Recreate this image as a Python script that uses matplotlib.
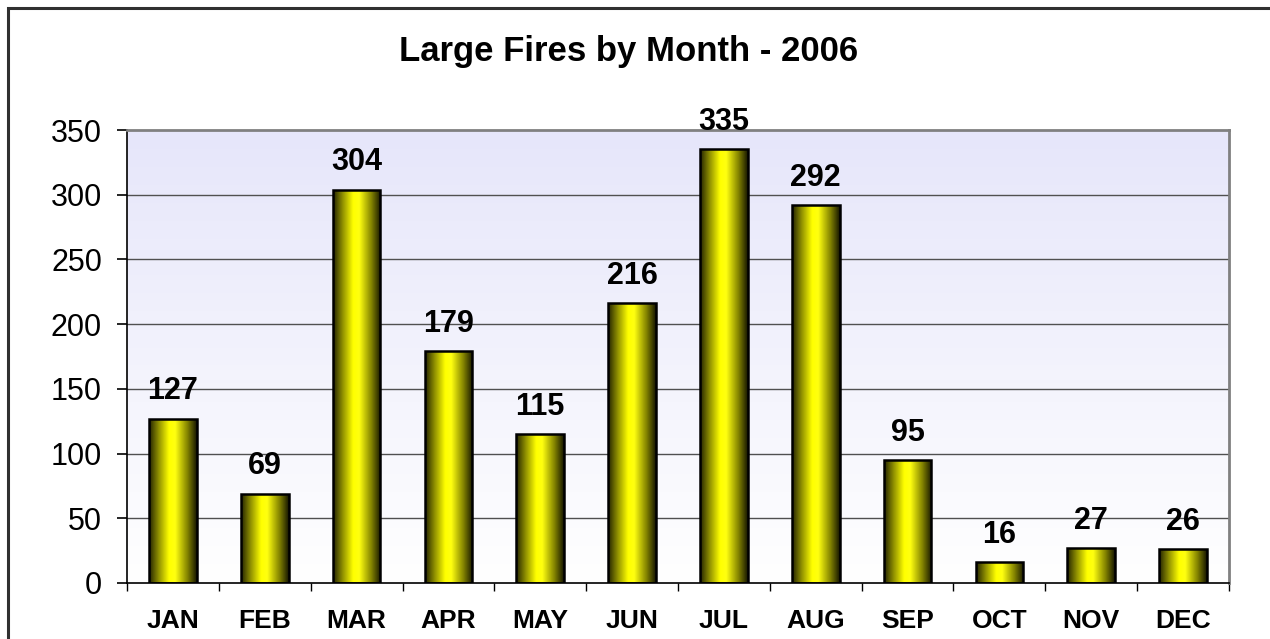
import numpy as np
import matplotlib
matplotlib.use("Agg")
import matplotlib.pyplot as plt
from matplotlib.colors import LinearSegmentedColormap
from matplotlib.patches import Rectangle

months = ["JAN", "FEB", "MAR", "APR", "MAY", "JUN", "JUL", "AUG", "SEP", "OCT", "NOV", "DEC"]
fires = [127, 69, 304, 179, 115, 216, 335, 292, 95, 16, 27, 26]
yticks = [0, 50, 100, 150, 200, 250, 300, 350]
title = "Large Fires by Month - 2006"

plt.rcParams['font.family'] = ['Liberation Sans', 'DejaVu Sans']

W, H = 1270, 639
fig = plt.figure(figsize=(W / 100, H / 100), dpi=100)
fig.patch.set_facecolor("white")

# outer chart border (extends past right/bottom edges)
fig.patches.append(Rectangle((8 / W, -0.1), 1.2, 1 - 8 / H + 0.1, transform=fig.transFigure,
                             fill=False, edgecolor="#303030", linewidth=2.2, zorder=0))

ax = fig.add_axes([127 / W, 1 - 583 / H, (1229 - 127) / W, (583 - 130) / H])
n = len(months)
x = np.arange(n)

# background gradient
bg = LinearSegmentedColormap.from_list("bg", ["#FFFFFF", "#E6E6FA"])
grad = np.linspace(0, 1, 256).reshape(-1, 1)
ax.imshow(grad, cmap=bg, origin="lower", aspect="auto",
          extent=[-0.5, n - 0.5, 0, 350], zorder=0)

# gridlines
for yv in yticks[1:-1]:
    ax.axhline(yv, color="#505050", linewidth=1.0, zorder=1)

# bars with cylindrical gradient
bar_cmap = LinearSegmentedColormap.from_list(
    "bar", [(0.0, "#222200"), (0.2, "#8f8f00"), (0.42, "#FFFF00"), (0.55, "#FFFF10"),
            (0.8, "#858500"), (1.0, "#161600")])
hgrad = np.linspace(0, 1, 256).reshape(1, -1)
width = 0.52
bars = ax.bar(x, fires, width=width, facecolor="none", edgecolor="black", linewidth=1.8, zorder=3)
for b in bars:
    im = ax.imshow(hgrad, cmap=bar_cmap, aspect="auto",
                   extent=[b.get_x(), b.get_x() + b.get_width(), 0, b.get_height()], zorder=2)
    im.set_clip_path(b)

ax.set_xlim(-0.5, n - 0.5)
ax.set_ylim(0, 350)

# value labels
for xi, v in zip(x, fires):
    ax.annotate(str(v), (xi, v), xytext=(0, 14), textcoords="offset points",
                ha="center", va="baseline", fontsize=22, fontweight="bold", color="black")

# spines
for s in ["left", "bottom"]:
    ax.spines[s].set_color("black")
    ax.spines[s].set_linewidth(1.2)
for s in ["top", "right"]:
    ax.spines[s].set_color("#808080")
    ax.spines[s].set_linewidth(2.0)

ax.set_yticks(yticks)
ax.set_yticklabels([str(t) for t in yticks], fontsize=22)
ax.tick_params(axis="y", length=7, width=1.2, color="black", pad=11)

ax.set_xticks(np.arange(-0.5, n, 1.0))
ax.set_xticklabels([])
ax.set_xticks(x, minor=True)
ax.set_xticklabels(months, minor=True, fontsize=19, fontweight="bold")
ax.tick_params(axis="x", which="major", length=6, width=1.0, color="black")
ax.tick_params(axis="x", which="minor", length=0, pad=19)

fig.text(629 / W, 1 - 52 / H, title, ha="center", va="center", fontsize=25, fontweight="bold")

fig.savefig("out.png", dpi=100)
